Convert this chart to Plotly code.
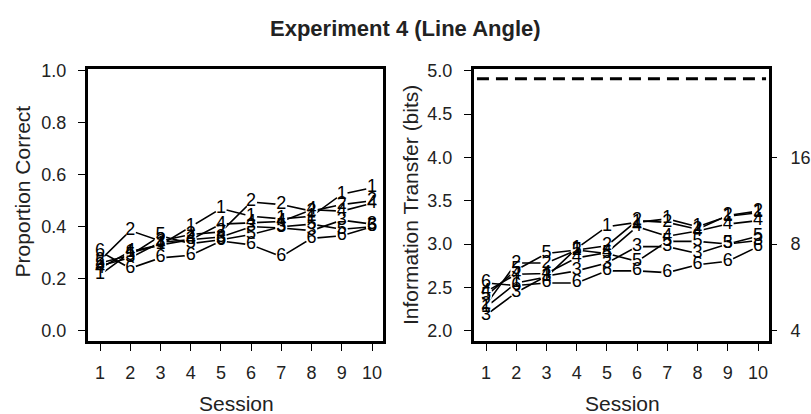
import math
import plotly.graph_objects as go

sessions = [1, 2, 3, 4, 5, 6, 7, 8, 9, 10]
subjects = ["1", "2", "3", "4", "5", "6"]

# Proportion correct per subject (left panel)
pc_1 = [0.215, 0.30, 0.33, 0.40, 0.47, 0.44, 0.43, 0.44, 0.525, 0.55]
pc_2 = [0.27, 0.385, 0.345, 0.37, 0.38, 0.495, 0.485, 0.46, 0.485, 0.50]
pc_3 = [0.25, 0.28, 0.34, 0.35, 0.36, 0.40, 0.395, 0.385, 0.425, 0.41]
pc_4 = [0.24, 0.305, 0.33, 0.35, 0.41, 0.415, 0.42, 0.465, 0.46, 0.49]
pc_5 = [0.26, 0.29, 0.365, 0.335, 0.35, 0.37, 0.40, 0.41, 0.39, 0.40]
pc_6 = [0.305, 0.24, 0.28, 0.29, 0.345, 0.33, 0.285, 0.355, 0.365, 0.40]

# Information transfer (bits) per subject (right panel)
it_1 = [2.27, 2.55, 2.62, 2.95, 3.20, 3.25, 3.29, 3.20, 3.32, 3.36]
it_2 = [2.30, 2.78, 2.78, 2.93, 2.98, 3.27, 3.25, 3.17, 3.33, 3.38]
it_3 = [2.18, 2.44, 2.63, 2.69, 2.78, 2.97, 2.97, 2.89, 3.00, 3.04]
it_4 = [2.45, 2.65, 2.66, 2.84, 2.90, 3.20, 3.09, 3.15, 3.23, 3.27]
it_5 = [2.40, 2.70, 2.89, 2.93, 2.89, 2.80, 3.03, 3.03, 3.00, 3.09]
it_6 = [2.55, 2.52, 2.55, 2.55, 2.69, 2.69, 2.67, 2.76, 2.80, 2.97]

n_stimuli = 30                      # max information = log2(30)
right_tick_values = [4, 8, 16]      # right axis: number of categories

left_ticks = [0.0, 0.2, 0.4, 0.6, 0.8, 1.0]
right_ticks = [2.0, 2.5, 3.0, 3.5, 4.0, 4.5, 5.0]

pc_all = [pc_1, pc_2, pc_3, pc_4, pc_5, pc_6]
it_all = [it_1, it_2, it_3, it_4, it_5, it_6]

FONT = "Liberation Sans, Arial, Helvetica, sans-serif"
W, H = 811, 414

fig = go.Figure()


def add_panel(data, xa, ya):
    for vals in data:
        fig.add_trace(go.Scatter(x=sessions, y=vals, mode="lines", xaxis=xa, yaxis=ya,
                                 line=dict(color="black", width=1.6), hoverinfo="skip",
                                 showlegend=False))
    for vals in data:
        fig.add_trace(go.Scatter(x=sessions, y=vals, mode="markers", xaxis=xa, yaxis=ya,
                                 marker=dict(color="white", size=12, line=dict(width=0)),
                                 hoverinfo="skip", showlegend=False))
    for lab, vals in zip(subjects, data):
        fig.add_trace(go.Scatter(x=sessions, y=vals, mode="text", xaxis=xa, yaxis=ya,
                                 text=[lab] * len(vals), textposition="middle center",
                                 textfont=dict(family=FONT, size=18, color="black"),
                                 hoverinfo="skip", showlegend=False))


add_panel(pc_all, "x", "y")
add_panel(it_all, "x2", "y2")

# dummy trace to activate right-hand axis
fig.add_trace(go.Scatter(x=[None], y=[None], xaxis="x2", yaxis="y3", showlegend=False))

xrange = [0.603, 10.364]
common_axis = dict(showgrid=False, zeroline=False, showline=True, linecolor="black",
                   linewidth=3, mirror=True, ticks="outside", ticklen=7, tickwidth=1,
                   tickcolor="black", tickfont=dict(family=FONT, size=18, color="#222"))

fig.update_layout(
    width=W, height=H,
    margin=dict(l=0, r=0, t=0, b=0),
    paper_bgcolor="white", plot_bgcolor="white",
    xaxis=dict(domain=[88 / W, 383 / W], range=xrange, tickvals=sessions,
               anchor="y", ticklabelstandoff=6, **common_axis),
    yaxis=dict(domain=[(H - 340) / H, (H - 62) / H], range=[-0.0415, 1.0075],
               tickvals=left_ticks, ticktext=[f"{v:.1f}" for v in left_ticks],
               anchor="x", ticklabelstandoff=8, **common_axis),
    xaxis2=dict(domain=[474 / W, 769 / W], range=xrange, tickvals=sessions,
                anchor="y2", ticklabelstandoff=6, **common_axis),
    yaxis2=dict(domain=[(H - 340) / H, (H - 62) / H], range=[1.875, 5.023],
                tickvals=right_ticks, ticktext=[f"{v:.1f}" for v in right_ticks],
                anchor="x2", ticklabelstandoff=8, **common_axis),
    yaxis3=dict(overlaying="y2", side="right", anchor="x2", range=[1.875, 5.023],
                tickvals=[math.log2(v) for v in right_tick_values],
                ticktext=[str(v) for v in right_tick_values],
                showgrid=False, zeroline=False, showline=False, ticks="outside",
                ticklen=7, tickwidth=1, tickcolor="black", ticklabelstandoff=10,
                tickfont=dict(family=FONT, size=18, color="#222")),
    showlegend=False,
)

# max information (dashed line)
fig.add_shape(type="line", xref="x2 domain", yref="y2", x0=0.01, x1=0.99,
              y0=math.log2(n_stimuli), y1=math.log2(n_stimuli),
              line=dict(color="black", width=3, dash="12px,7px"))

ann = [
    dict(text="<b>Experiment 4 (Line Angle)</b>", x=405 / W, y=(H - 21) / H,
         font=dict(size=22)),
    dict(text="Proportion Correct", x=22 / W, y=(H - 187) / H, textangle=-90,
         font=dict(size=21)),
    dict(text="Information Transfer (bits)", x=410 / W, y=(H - 201) / H, textangle=-90,
         font=dict(size=21)),
    dict(text="Session", x=236 / W, y=(H - 403) / H, font=dict(size=21)),
    dict(text="Session", x=622 / W, y=(H - 403) / H, font=dict(size=21)),
]
for a in ann:
    a["font"].update(family=FONT, color="#222")
    fig.add_annotation(xref="paper", yref="paper", showarrow=False,
                       xanchor="center", yanchor="middle", **a)

fig.write_html("out.html")
